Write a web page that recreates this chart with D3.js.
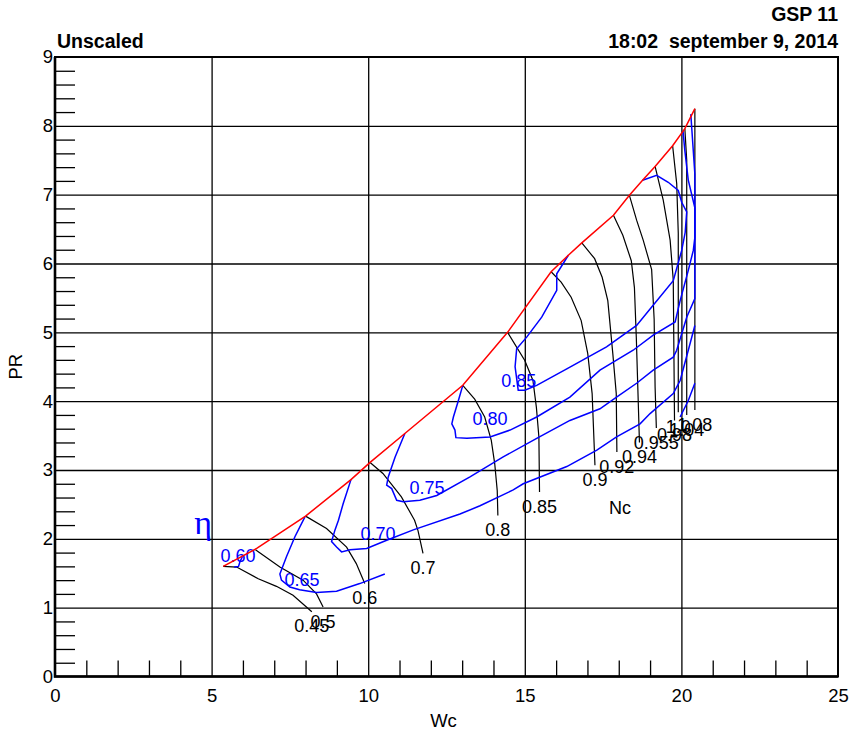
<!DOCTYPE html>
<html>
<head>
<meta charset="utf-8">
<script src="https://cdn.jsdelivr.net/npm/d3@7"></script>
<style>
  body { margin: 0; background: #fff; }
  text { font-family: "Liberation Sans", Arial, sans-serif; }
</style>
</head>
<body>
<script>
// axis ticks
const xTicks = [0, 5, 10, 15, 20, 25]
const yTicks = [0, 1, 2, 3, 4, 5, 6, 7, 8, 9]

// surge line (Wc, PR)
const surge = [[5.37, 1.60], [6.44, 1.86], [8.00, 2.33], [9.45, 2.86], [10.06, 3.11], [11.17, 3.53],
  [13.02, 4.23], [14.45, 5.00], [15.84, 5.88], [16.39, 6.12], [16.82, 6.30], [17.83, 6.70],
  [18.34, 6.99], [18.76, 7.21], [19.16, 7.41], [19.72, 7.71], [20.11, 7.96], [20.43, 8.25]]

// corrected speed lines Nc
const nc045 = [[5.37, 1.60], [5.80, 1.59], [6.49, 1.42], [7.07, 1.31], [7.60, 1.18], [8.20, 0.94]]
const nc050 = [[6.40, 1.84], [7.18, 1.59], [7.92, 1.40], [8.35, 1.20], [8.56, 1.01]]
const nc060 = [[8.00, 2.33], [8.67, 2.15], [9.31, 1.88], [9.62, 1.64], [9.89, 1.35]]
const nc070 = [[10.06, 3.11], [10.47, 2.95], [11.06, 2.61], [11.48, 2.27], [11.59, 2.12], [11.75, 1.79]]
const nc080 = [[13.02, 4.23], [13.40, 4.03], [13.72, 3.77], [13.93, 3.43], [14.04, 3.09], [14.12, 2.70], [14.14, 2.34]]
const nc085 = [[14.45, 5.00], [15.00, 4.59], [15.26, 4.30], [15.37, 3.91], [15.45, 3.48], [15.47, 2.68]]
const nc090 = [[15.84, 5.88], [16.16, 5.73], [16.48, 5.51], [16.80, 5.17], [17.01, 4.69], [17.15, 4.11], [17.24, 3.07]]
const nc092 = [[16.82, 6.30], [17.23, 6.07], [17.47, 5.80], [17.65, 5.46], [17.81, 4.69], [17.92, 4.11], [17.94, 3.26]]
const nc094 = [[17.83, 6.70], [18.13, 6.41], [18.40, 6.04], [18.50, 5.65], [18.56, 4.93], [18.64, 3.72], [18.66, 3.40]]
const nc0955 = [[18.34, 6.99], [18.57, 6.63], [18.78, 6.34], [19.05, 5.91], [19.13, 5.19], [19.16, 4.21], [19.20, 3.61]]
const nc098 = [[19.16, 7.41], [19.42, 6.92], [19.64, 6.34], [19.74, 5.76], [19.78, 3.72]]
const nc100 = [[19.72, 7.71], [19.85, 7.16], [19.90, 6.44], [19.90, 3.84]]
const nc104 = [[20.11, 7.96], [20.17, 7.50], [20.17, 3.80]]
const nc108 = [[20.43, 8.25], [20.43, 3.87]]
const ncNames = ['0.45', '0.5', '0.6', '0.7', '0.8', '0.85', '0.9', '0.92', '0.94', '0.955', '0.98', '1.0', '1.04', '1.08']
const ncLines = [nc045, nc050, nc060, nc070, nc080, nc085, nc090, nc092, nc094, nc0955, nc098, nc100, nc104, nc108]

// efficiency contours
const eta060 = [[5.98, 1.74], [5.90, 1.66], [5.86, 1.60], [5.72, 1.59]]
const eta065 = [[7.98, 2.32], [7.66, 2.03], [7.39, 1.74], [7.18, 1.49], [7.23, 1.40], [7.50, 1.30], [7.81, 1.26],
  [8.35, 1.22], [8.99, 1.24], [9.73, 1.35], [10.53, 1.49]]
const eta070 = [[9.45, 2.86], [9.20, 2.51], [9.05, 2.27], [8.94, 2.13], [8.83, 1.96], [8.99, 1.88], [9.15, 1.81],
  [9.42, 1.84], [9.95, 1.86], [10.59, 1.98], [11.44, 2.13], [12.93, 2.36], [13.57, 2.48], [14.63, 2.71],
  [14.95, 2.80], [16.34, 3.05], [17.30, 3.29], [17.93, 3.48], [18.68, 3.67], [19.00, 3.82], [19.74, 4.11],
  [19.96, 4.30], [20.22, 4.74], [20.43, 5.10]]
const eta070b = [[19.96, 3.77], [20.22, 4.01], [20.43, 4.26]]
const eta075 = [[11.17, 3.53], [10.86, 3.19], [10.64, 2.90], [10.59, 2.78], [10.75, 2.73], [10.91, 2.56],
  [11.12, 2.54], [11.65, 2.56], [12.19, 2.63], [13.25, 2.90], [14.31, 3.19], [15.38, 3.46], [16.44, 3.72],
  [17.40, 3.89], [17.93, 4.06], [18.57, 4.26], [19.10, 4.45], [19.74, 4.64], [19.85, 4.74], [20.17, 5.22],
  [20.43, 5.49], [20.43, 6.34], [20.43, 7.30], [20.30, 8.17]]
const eta080 = [[13.02, 4.23], [12.88, 4.01], [12.72, 3.77], [12.67, 3.67], [12.77, 3.58], [12.80, 3.47],
  [13.15, 3.46], [13.89, 3.48], [14.53, 3.58], [15.38, 3.77], [16.44, 4.06], [17.40, 4.45], [18.46, 4.74],
  [19.10, 4.96], [19.80, 5.15], [19.96, 5.46], [20.22, 5.90], [20.38, 6.19], [20.43, 6.38], [20.43, 6.81],
  [20.22, 7.21], [20.11, 7.64], [20.05, 7.93]]
const eta085 = [[16.39, 6.12], [16.02, 5.85], [16.02, 5.61], [15.54, 5.22], [15.06, 4.93], [14.74, 4.76],
  [14.69, 4.50], [14.79, 4.16], [15.00, 4.16], [15.38, 4.23], [16.34, 4.47], [17.61, 4.79], [18.57, 5.10],
  [19.00, 5.34], [19.74, 5.75], [20.01, 6.19], [20.12, 6.45], [20.17, 6.75], [20.01, 6.89], [19.90, 7.06],
  [19.58, 7.18], [19.21, 7.28], [18.76, 7.21]]
const etaLines = [eta060, eta065, eta070, eta070b, eta075, eta080, eta085]
const etaNames = ['0.60', '0.65', '0.70', '0.75', '0.80', '0.85']
const etaLabelPos = [[5.84, 1.75], [7.89, 1.40], [10.31, 2.08], [11.88, 2.74], [13.89, 3.74], [14.81, 4.30]]

const width = 854
const height = 734
const plotLeft = 55
const plotRight = 838
const plotTop = 57
const plotBottom = 676.5

const x = d3.scaleLinear().domain([0, 25]).range([plotLeft, plotRight])
const y = d3.scaleLinear().domain([0, 9]).range([plotBottom, plotTop])
const line = d3.line().x((d) => x(d[0])).y((d) => y(d[1]))

const svg = d3.select('body').append('svg').attr('width', width).attr('height', height)

// Grid
const gx = svg.append('g').attr('transform', `translate(0,${plotBottom})`)
  .call(d3.axisBottom(x).tickValues(xTicks.slice(1, -1)).tickSize(-(plotBottom - plotTop)).tickFormat(''))
const gy = svg.append('g').attr('transform', `translate(${plotLeft},0)`)
  .call(d3.axisLeft(y).tickValues(yTicks.slice(1, -1)).tickSize(-(plotRight - plotLeft)).tickFormat(''))
;[gx, gy].forEach((g) => {
  g.select('.domain').remove()
  g.selectAll('line').attr('stroke', '#000').attr('stroke-width', 1.3)
})

// Minor ticks
const xMinor = d3.range(1, 25).filter((v) => v % 5 !== 0)
const yMinor = d3.range(1, 45).filter((v) => v % 5 !== 0).map((v) => v / 5)
const mx = svg.append('g').attr('transform', `translate(0,${plotBottom})`)
  .call(d3.axisBottom(x).tickValues(xMinor).tickSize(-16).tickFormat(''))
const my = svg.append('g').attr('transform', `translate(${plotLeft},0)`)
  .call(d3.axisLeft(y).tickValues(yMinor).tickSize(-20).tickFormat(''))
;[mx, my].forEach((g) => {
  g.select('.domain').remove()
  g.selectAll('line').attr('stroke', '#000').attr('stroke-width', 1.3)
})

// Tick labels
const ax = svg.append('g').attr('transform', `translate(0,${plotBottom})`)
  .call(d3.axisBottom(x).tickValues(xTicks).tickSize(0).tickPadding(12))
const ay = svg.append('g').attr('transform', `translate(${plotLeft - 2},0)`)
  .call(d3.axisLeft(y).tickValues(yTicks).tickSize(0).tickPadding(0))
;[ax, ay].forEach((g) => {
  g.select('.domain').remove()
  g.selectAll('text').attr('font-size', 18.5).attr('fill', '#000')
    .attr('font-family', '"Liberation Sans", Arial, sans-serif')
})

// Frame
svg.append('rect').attr('x', plotLeft).attr('y', plotTop)
  .attr('width', plotRight - plotLeft).attr('height', plotBottom - plotTop)
  .attr('fill', 'none').attr('stroke', '#000').attr('stroke-width', 2)
svg.append('path').attr('d', `M${plotLeft},${plotTop}V${plotBottom}H${plotRight}`)
  .attr('fill', 'none').attr('stroke', '#000').attr('stroke-width', 2.6)

// Speed lines
svg.append('g').selectAll('path').data(ncLines).enter().append('path')
  .attr('d', line).attr('fill', 'none').attr('stroke', '#000').attr('stroke-width', 1.2)
svg.append('g').selectAll('text').data(ncLines).enter().append('text')
  .attr('x', (d) => x(d[d.length - 1][0]))
  .attr('y', (d) => y(d[d.length - 1][1]))
  .attr('dy', '1.15em')
  .attr('text-anchor', 'middle')
  .attr('font-size', 18)
  .text((d, i) => ncNames[i])

// Efficiency contours
svg.append('g').selectAll('path').data(etaLines).enter().append('path')
  .attr('d', line).attr('fill', 'none').attr('stroke', '#0000ff').attr('stroke-width', 1.5)
svg.append('g').selectAll('text').data(etaLabelPos).enter().append('text')
  .attr('x', (d) => x(d[0]))
  .attr('y', (d) => y(d[1]))
  .attr('dy', '0.35em')
  .attr('text-anchor', 'middle')
  .attr('font-size', 18)
  .attr('fill', '#0000ff')
  .text((d, i) => etaNames[i])

// Surge line
svg.append('path').datum(surge).attr('d', line)
  .attr('fill', 'none').attr('stroke', '#ff0000').attr('stroke-width', 1.5)

// Labels
svg.append('text').attr('x', x(4.73)).attr('y', y(2.07)).attr('text-anchor', 'middle')
  .attr('font-size', 34).attr('fill', '#0000ff')
  .style('font-family', '"Liberation Serif", "DejaVu Serif", serif').text('η')
svg.append('text').attr('x', x(18.04)).attr('y', y(2.45)).attr('dy', '0.35em')
  .attr('text-anchor', 'middle').attr('font-size', 18).text('Nc')

svg.append('text').attr('x', (plotLeft + plotRight) / 2 - 3).attr('y', 727).attr('text-anchor', 'middle')
  .attr('font-size', 18.5).text('Wc')
svg.append('text').attr('transform', `translate(22,${(plotTop + plotBottom) / 2}) rotate(-90)`)
  .attr('text-anchor', 'middle').attr('font-size', 18.5).text('PR')

svg.append('text').attr('x', 57).attr('y', 48).attr('font-size', 19.5).attr('font-weight', 'bold').text('Unscaled')
svg.append('text').attr('x', plotRight).attr('y', 21).attr('text-anchor', 'end')
  .attr('font-size', 19.5).attr('font-weight', 'bold').text('GSP 11')
svg.append('text').attr('x', plotRight).attr('y', 48).attr('text-anchor', 'end')
  .attr('font-size', 19.5).attr('font-weight', 'bold').style('white-space', 'pre')
  .text('18:02  september 9, 2014')
</script>
</body>
</html>
